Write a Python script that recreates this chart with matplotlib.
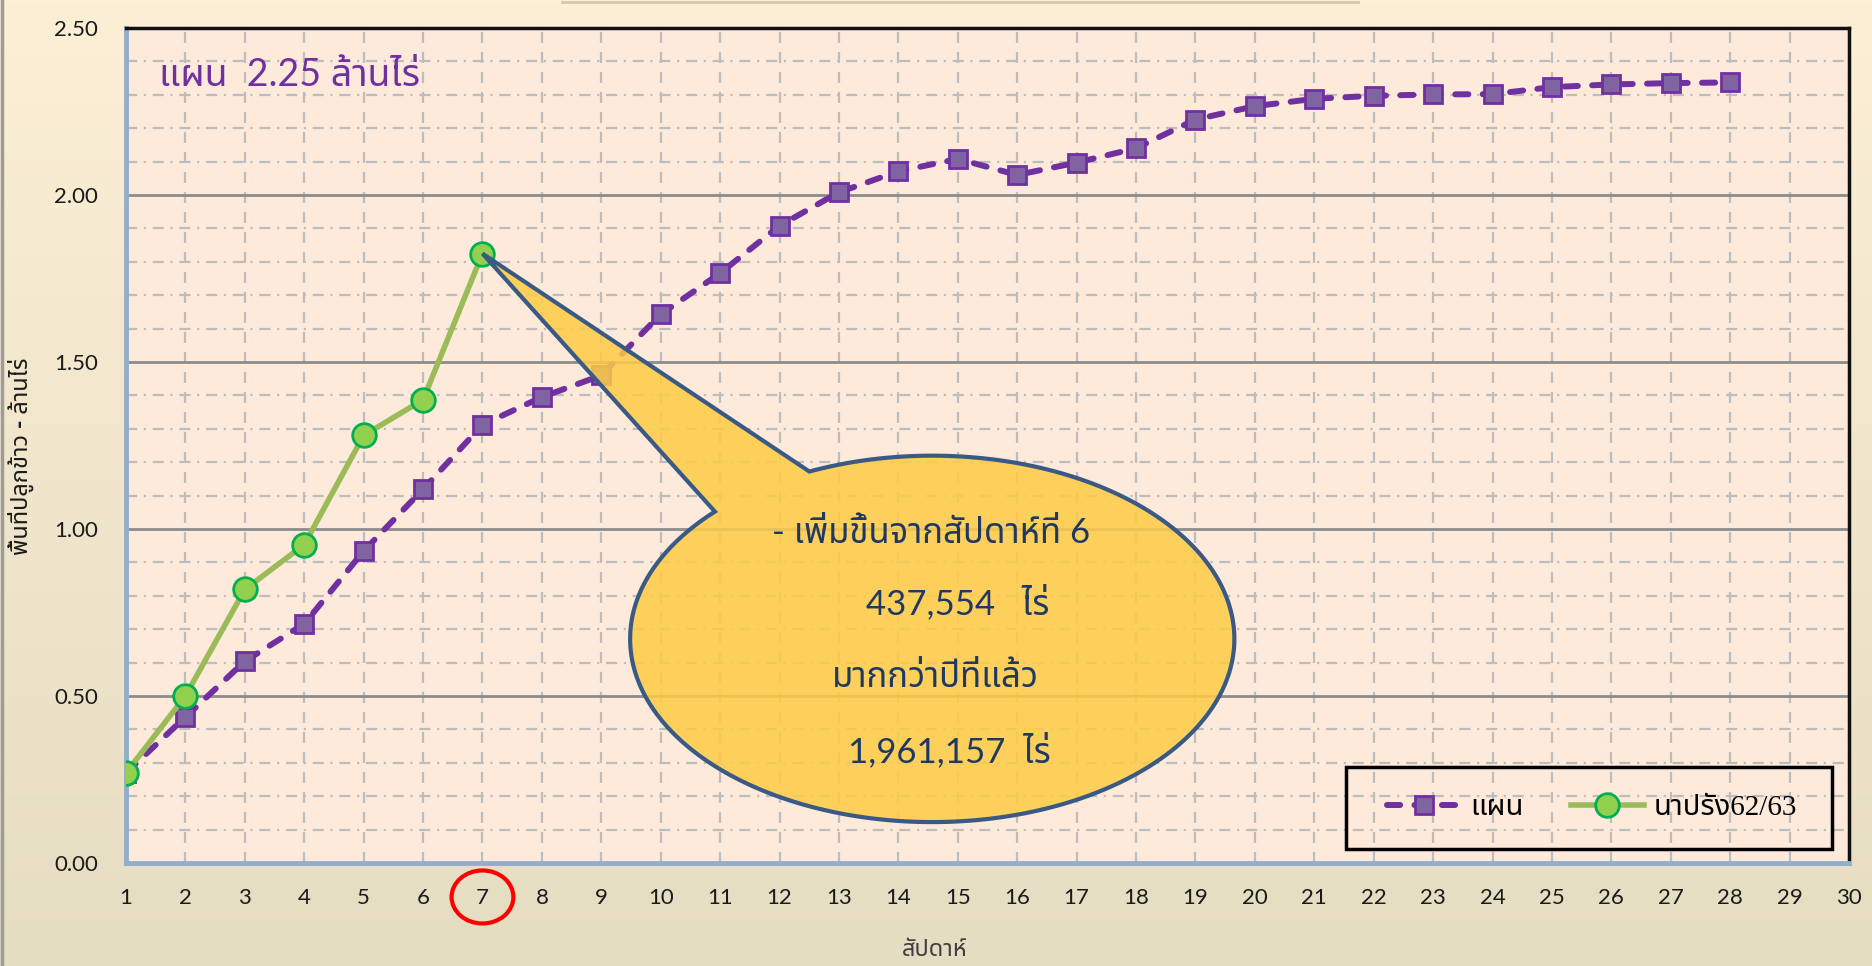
import numpy as np
import matplotlib
matplotlib.use("Agg")
import matplotlib.pyplot as plt
from matplotlib import font_manager
from matplotlib.ft2font import FT2Font
from matplotlib.patches import PathPatch, Rectangle, Ellipse
from matplotlib.path import Path
from matplotlib.lines import Line2D
from matplotlib.transforms import blended_transform_factory

# weekly planted area, million rai
weeks_plan = list(range(1, 29))
plan = [0.27, 0.437, 0.604, 0.716, 0.934, 1.119, 1.312, 1.395, 1.460, 1.643,
        1.766, 1.908, 2.008, 2.071, 2.108, 2.060, 2.097, 2.140, 2.226, 2.266,
        2.288, 2.297, 2.301, 2.302, 2.323, 2.331, 2.335, 2.337]
weeks_actual = list(range(1, 8))
actual = [0.27, 0.50, 0.819, 0.953, 1.280, 1.387, 1.824554]

x_ticks = list(range(1, 31))
plan_label = "แผน"
actual_label = "นาปรัง62/63"
plan_note = "แผน  2.25 ล้านไร่"
more_than_last_year = "1,961,157"


def find_thai_font():
    preferred = ["Noto Sans Thai", "Noto Sans Thai UI", "Loma", "Garuda", "Waree",
                 "Umpush", "Sawasdee", "Norasi", "Kinnari", "Noto Serif Thai"]
    found = {}
    for entry in font_manager.fontManager.ttflist:
        try:
            cmap = FT2Font(entry.fname).get_charmap()
        except Exception:
            continue
        if 0x0E01 in cmap and 0x0E48 in cmap:
            found.setdefault(entry.name, entry.fname)
    for name in preferred:
        if name in found:
            return name
    return next(iter(found), None)


thai = find_thai_font()
extra = [thai] if thai else []
SANS = ["Lato"] + extra + ["DejaVu Sans"]
SERIF = ["Liberation Serif"] + extra + ["DejaVu Sans"]
plt.rcParams["font.family"] = SANS

W, H = 1872, 966
fig = plt.figure(figsize=(W / 100, H / 100), dpi=100)

# cream window background with a soft vertical gradient
bg = fig.add_axes([0, 0, 1, 1], zorder=-10)
top_c = np.array([252, 239, 214]) / 255
bot_c = np.array([229, 221, 194]) / 255
t = np.linspace(0, 1, 256)[:, None, None]
grad = top_c * (1 - t) + bot_c * t
bg.imshow(grad, aspect="auto", extent=[0, 1, 0, 1])
bg.axis("off")
fig.add_artist(Line2D([1.5 / W, 1.5 / W], [0, 1], color="#9C9C9C", lw=2.5, transform=fig.transFigure))
fig.add_artist(Line2D([562 / W, 1358 / W], [1 - 1.5 / H] * 2, color="#D6C8AC", lw=2, transform=fig.transFigure))

left, right, top, bottom = 126, 1849, 28, 863
ax = fig.add_axes([left / W, 1 - bottom / H, (right - left) / W, (bottom - top) / H])
ax.set_facecolor("#FDEADB")
ax.set_xlim(1, 30)
ax.set_ylim(0, 2.5)
ax.set_xticks(x_ticks)
ax.set_yticks(np.arange(0, 2.51, 0.5))
ax.set_yticks(np.arange(0, 2.51, 0.1), minor=True)
ax.set_yticklabels([f"{v:.2f}" for v in np.arange(0, 2.51, 0.5)])
ax.tick_params(axis="both", which="both", length=0)
ax.tick_params(axis="x", pad=18, labelsize=16, labelcolor="#1A1A1A")
ax.tick_params(axis="y", pad=20, labelsize=16, labelcolor="#1A1A1A")
ax.set_axisbelow(True)

ax.grid(axis="x", which="major", color="#BDBDBD", ls=(0, (5, 4)), lw=1.6)
ax.grid(axis="y", which="minor", color="#BDBDBD", ls=(0, (5, 3, 1, 3)), lw=1.6)
ax.grid(axis="y", which="major", color="#8C8C8C", ls="-", lw=2.0)

for side in ("left", "bottom"):
    ax.spines[side].set_color("#93AECB")
    ax.spines[side].set_linewidth(3.5)
for side in ("top", "right"):
    ax.spines[side].set_color("#111111")
    ax.spines[side].set_linewidth(2.5)

ax.plot(weeks_plan, plan, color="#7030A0", lw=4.3, ls=(0, (2.2, 2.4)),
        dash_capstyle="round", marker="s", ms=13, mfc="#8064A2", mec="#7030A0",
        mew=2, zorder=3, label=plan_label)
ax.plot(weeks_actual, actual, color="#9BBB59", lw=4, marker="o", ms=17,
        mfc="#92D050", mec="#00B050", mew=2, zorder=4, label=actual_label)

ax.text(1.555, 2.36, plan_note, color="#7030A0", fontsize=27, va="center", ha="left")

# oval callout pointing at the latest week
cx, cy, rx, ry = 14.57, 0.671, 5.085, 0.5485
theta = np.radians(np.linspace(136, 474, 400))
verts = list(zip(cx + rx * np.cos(theta), cy + ry * np.sin(theta)))
verts.append((weeks_actual[-1], actual[-1]))
verts.append(verts[0])
codes = [Path.MOVETO] + [Path.LINETO] * (len(verts) - 2) + [Path.CLOSEPOLY]
callout = PathPatch(Path(verts, codes), facecolor=(254 / 255, 204 / 255, 70 / 255, 0.85),
                    edgecolor="#3A5A85", lw=3, zorder=5, joinstyle="miter")
ax.add_patch(callout)

increase = round((actual[-1] - actual[-2]) * 1e6)
txt = dict(color="#1F3864", fontsize=25, ha="center", va="center", zorder=6)
ax.text(14.55, 0.989, "- เพิ่มขึ้นจากสัปดาห์ที่ 6", **txt)
ax.text(15.0, 0.779, f"{increase:,}   ไร่", **txt)
ax.text(14.62, 0.557, "มากกว่าปีที่แล้ว", **txt)
ax.text(14.85, 0.338, f"{more_than_last_year}  ไร่", **txt)

# legend box
ax.add_patch(Rectangle((0.708, 0.0168), 0.282, 0.0982, transform=ax.transAxes,
                       fill=False, edgecolor="black", lw=2.5, zorder=7))
ax.legend(loc="center", bbox_to_anchor=(0.851, 0.066), ncol=2, frameon=False,
          handlelength=2.5, handletextpad=0.35, columnspacing=1.6,
          prop={"family": SERIF, "size": 21})

# red ring around week 7
ring_tf = blended_transform_factory(ax.transData, ax.transAxes)
ax.add_patch(Ellipse((7, -0.0407), 1.04, 0.0635, transform=ring_tf, fill=False,
                     edgecolor="#FF0000", lw=3, clip_on=False))

ax.set_ylabel("พื้นที่ปลูกข้าว - ล้านไร่", fontsize=17, fontweight="bold", color="#1A1A1A",
              va="center")
ax.yaxis.set_label_coords(-0.061, 0.487)
ax.set_xlabel("สัปดาห์", fontsize=17, color="#404040", va="center")
ax.xaxis.set_label_coords(0.4695, -0.104)

fig.savefig("out.png", dpi=100)
